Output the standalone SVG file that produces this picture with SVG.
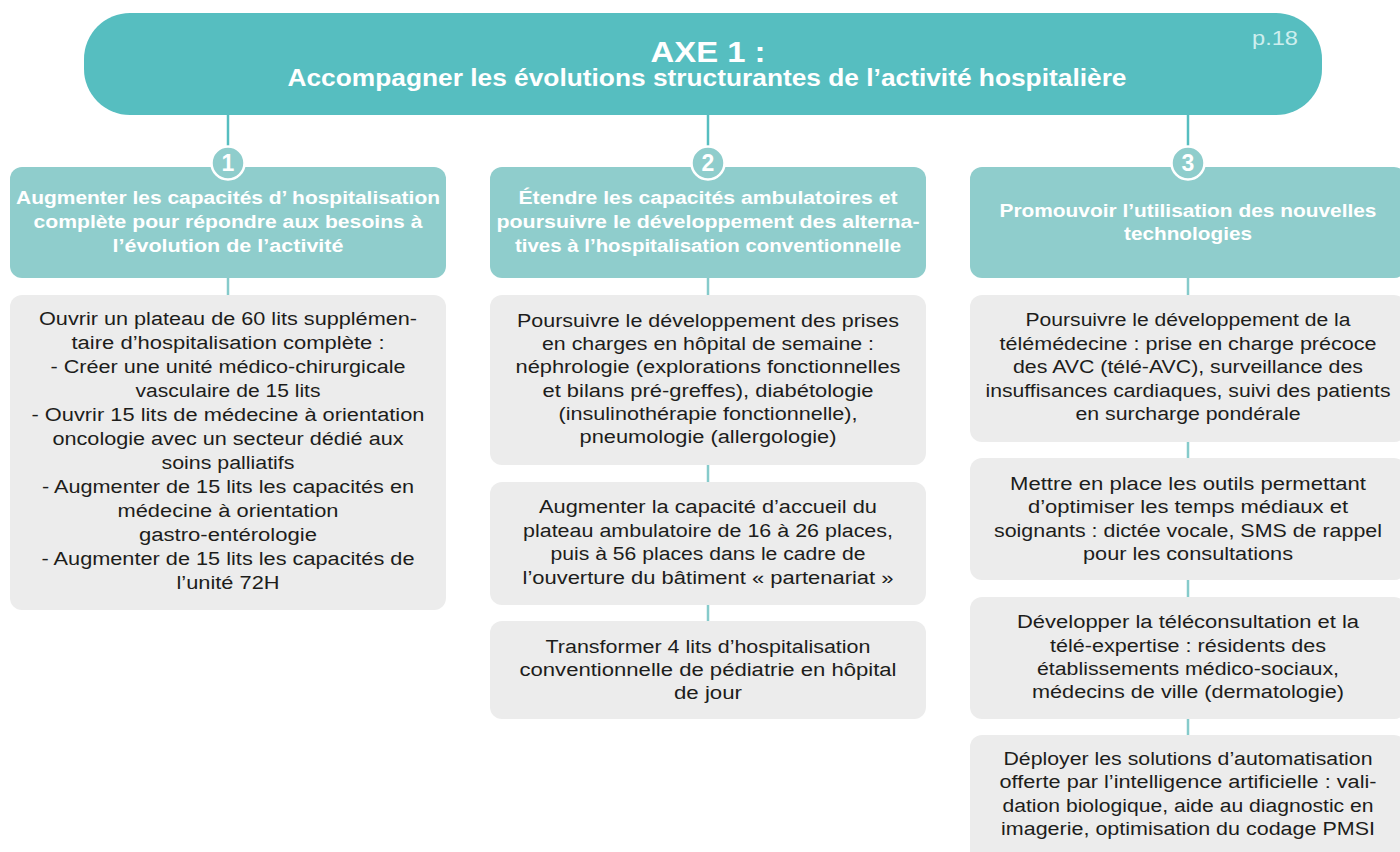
<svg xmlns="http://www.w3.org/2000/svg" width="1400" height="852" viewBox="0 0 1400 852">
<style>
.hdr{fill:#56bec0}
.l2{fill:#8fcdcc}
.l3{fill:#ececec}
.t2{font-family:"Liberation Sans",Arial,sans-serif;font-weight:bold;font-size:18px;fill:#ffffff;text-anchor:middle}
.t3{font-family:"Liberation Sans",Arial,sans-serif;font-size:18px;fill:#1d1d1b;text-anchor:middle}
.num{font-family:"Liberation Sans",Arial,sans-serif;font-weight:bold;font-size:23px;fill:#ffffff;text-anchor:middle}
.c1{stroke:#56bec0;stroke-width:2.5;fill:none}
.c2{stroke:#86cbcb;stroke-width:2.5;fill:none}
.badge{fill:#8fcdcc;stroke:#ffffff;stroke-width:2.5}
</style>
<rect width="1400" height="852" fill="#ffffff"/>
<g id="connectors">
<line class="c1" x1="228" y1="114" x2="228" y2="148"/>
<line class="c1" x1="708" y1="114" x2="708" y2="148"/>
<line class="c1" x1="1188" y1="114" x2="1188" y2="148"/>
<line class="c2" x1="228" y1="278" x2="228" y2="296"/>
<line class="c2" x1="708" y1="278" x2="708" y2="296"/>
<line class="c2" x1="708" y1="464" x2="708" y2="483"/>
<line class="c2" x1="708" y1="604" x2="708" y2="622"/>
<line class="c2" x1="1188" y1="278" x2="1188" y2="296"/>
<line class="c2" x1="1188" y1="441" x2="1188" y2="459"/>
<line class="c2" x1="1188" y1="579" x2="1188" y2="598"/>
<line class="c2" x1="1188" y1="718" x2="1188" y2="736"/>
</g>
<g id="header">
<rect class="hdr" x="84" y="13" width="1238" height="102" rx="46" ry="46"/>
<text x="708" y="62" font-family="'Liberation Sans',Arial,sans-serif" font-weight="bold" font-size="30" fill="#ffffff" text-anchor="middle" textLength="115" lengthAdjust="spacingAndGlyphs">AXE 1 :</text>
<text x="707" y="86" font-family="'Liberation Sans',Arial,sans-serif" font-weight="bold" font-size="23" fill="#ffffff" text-anchor="middle" textLength="839" lengthAdjust="spacingAndGlyphs">Accompagner les évolutions structurantes de l’activité hospitalière</text>
<text x="1275" y="45" font-family="'Liberation Sans',Arial,sans-serif" font-size="20" fill="#cdeeee" text-anchor="middle" textLength="46" lengthAdjust="spacingAndGlyphs">p.18</text>
</g>
<g id="obj1">
<rect class="l2" x="10" y="167" width="436" height="111" rx="12"/>
<circle class="badge" cx="228" cy="163" r="16.5"/>
<text class="num" x="228" y="171">1</text>
<text class="t2" x="228" y="204" textLength="424" lengthAdjust="spacingAndGlyphs">Augmenter les capacités d’ hospitalisation</text>
<text class="t2" x="228" y="228" textLength="389" lengthAdjust="spacingAndGlyphs">complète pour répondre aux besoins à</text>
<text class="t2" x="228" y="252" textLength="231" lengthAdjust="spacingAndGlyphs">l’évolution de l’activité</text>
</g>
<g id="obj2">
<rect class="l2" x="490" y="167" width="436" height="111" rx="12"/>
<circle class="badge" cx="708" cy="163" r="16.5"/>
<text class="num" x="708" y="171">2</text>
<text class="t2" x="708" y="204" textLength="379" lengthAdjust="spacingAndGlyphs">Étendre les capacités ambulatoires et</text>
<text class="t2" x="708" y="228" textLength="423" lengthAdjust="spacingAndGlyphs">poursuivre le développement des alterna-</text>
<text class="t2" x="708" y="252" textLength="386" lengthAdjust="spacingAndGlyphs">tives à l’hospitalisation conventionnelle</text>
</g>
<g id="obj3">
<rect class="l2" x="970" y="167" width="436" height="111" rx="12"/>
<circle class="badge" cx="1188" cy="163" r="16.5"/>
<text class="num" x="1188" y="171">3</text>
<text class="t2" x="1188" y="217" textLength="377" lengthAdjust="spacingAndGlyphs">Promouvoir l’utilisation des nouvelles</text>
<text class="t2" x="1188" y="240" textLength="128" lengthAdjust="spacingAndGlyphs">technologies</text>
</g>
<g id="action1-1">
<rect class="l3" x="10" y="295" width="436" height="315" rx="12"/>
<text class="t3" x="228" y="325" textLength="378" lengthAdjust="spacingAndGlyphs">Ouvrir un plateau de 60 lits supplémen-</text>
<text class="t3" x="228" y="349" textLength="313" lengthAdjust="spacingAndGlyphs">taire d’hospitalisation complète :</text>
<text class="t3" x="228" y="373" textLength="355" lengthAdjust="spacingAndGlyphs">- Créer une unité médico-chirurgicale</text>
<text class="t3" x="228" y="397" textLength="185" lengthAdjust="spacingAndGlyphs">vasculaire de 15 lits</text>
<text class="t3" x="228" y="421" textLength="393" lengthAdjust="spacingAndGlyphs">- Ouvrir 15 lits de médecine à orientation</text>
<text class="t3" x="228" y="445" textLength="351" lengthAdjust="spacingAndGlyphs">oncologie avec un secteur dédié aux</text>
<text class="t3" x="228" y="469" textLength="133" lengthAdjust="spacingAndGlyphs">soins palliatifs</text>
<text class="t3" x="228" y="493" textLength="372" lengthAdjust="spacingAndGlyphs">- Augmenter de 15 lits les capacités en</text>
<text class="t3" x="228" y="517" textLength="221" lengthAdjust="spacingAndGlyphs">médecine à orientation</text>
<text class="t3" x="228" y="541" textLength="178" lengthAdjust="spacingAndGlyphs">gastro-entérologie</text>
<text class="t3" x="228" y="565" textLength="373" lengthAdjust="spacingAndGlyphs">- Augmenter de 15 lits les capacités de</text>
<text class="t3" x="228" y="589" textLength="103" lengthAdjust="spacingAndGlyphs">l’unité 72H</text>
</g>
<g id="action2-1">
<rect class="l3" x="490" y="295" width="436" height="170" rx="12"/>
<text class="t3" x="708" y="327" textLength="382" lengthAdjust="spacingAndGlyphs">Poursuivre le développement des prises</text>
<text class="t3" x="708" y="350" textLength="332" lengthAdjust="spacingAndGlyphs">en charges en hôpital de semaine :</text>
<text class="t3" x="708" y="373" textLength="385" lengthAdjust="spacingAndGlyphs">néphrologie (explorations fonctionnelles</text>
<text class="t3" x="708" y="397" textLength="331" lengthAdjust="spacingAndGlyphs">et bilans pré-greffes), diabétologie</text>
<text class="t3" x="708" y="420" textLength="299" lengthAdjust="spacingAndGlyphs">(insulinothérapie fonctionnelle),</text>
<text class="t3" x="708" y="443" textLength="257" lengthAdjust="spacingAndGlyphs">pneumologie (allergologie)</text>
</g>
<g id="action2-2">
<rect class="l3" x="490" y="482" width="436" height="123" rx="12"/>
<text class="t3" x="708" y="513" textLength="338" lengthAdjust="spacingAndGlyphs">Augmenter la capacité d’accueil du</text>
<text class="t3" x="708" y="537" textLength="370" lengthAdjust="spacingAndGlyphs">plateau ambulatoire de 16 à 26 places,</text>
<text class="t3" x="708" y="560" textLength="315" lengthAdjust="spacingAndGlyphs">puis à 56 places dans le cadre de</text>
<text class="t3" x="708" y="584" textLength="371" lengthAdjust="spacingAndGlyphs">l’ouverture du bâtiment « partenariat »</text>
</g>
<g id="action2-3">
<rect class="l3" x="490" y="621" width="436" height="98" rx="12"/>
<text class="t3" x="708" y="653" textLength="325" lengthAdjust="spacingAndGlyphs">Transformer 4 lits d’hospitalisation</text>
<text class="t3" x="708" y="676" textLength="377" lengthAdjust="spacingAndGlyphs">conventionnelle de pédiatrie en hôpital</text>
<text class="t3" x="708" y="699" textLength="68" lengthAdjust="spacingAndGlyphs">de jour</text>
</g>
<g id="action3-1">
<rect class="l3" x="970" y="295" width="436" height="147" rx="12"/>
<text class="t3" x="1188" y="326" textLength="325" lengthAdjust="spacingAndGlyphs">Poursuivre le développement de la</text>
<text class="t3" x="1188" y="350" textLength="377" lengthAdjust="spacingAndGlyphs">télémédecine : prise en charge précoce</text>
<text class="t3" x="1188" y="373" textLength="350" lengthAdjust="spacingAndGlyphs">des AVC (télé-AVC), surveillance des</text>
<text class="t3" x="1188" y="397" textLength="405" lengthAdjust="spacingAndGlyphs">insuffisances cardiaques, suivi des patients</text>
<text class="t3" x="1188" y="420" textLength="225" lengthAdjust="spacingAndGlyphs">en surcharge pondérale</text>
</g>
<g id="action3-2">
<rect class="l3" x="970" y="458" width="436" height="122" rx="12"/>
<text class="t3" x="1188" y="490" textLength="356" lengthAdjust="spacingAndGlyphs">Mettre en place les outils permettant</text>
<text class="t3" x="1188" y="513" textLength="320" lengthAdjust="spacingAndGlyphs">d’optimiser les temps médiaux et</text>
<text class="t3" x="1188" y="537" textLength="388" lengthAdjust="spacingAndGlyphs">soignants : dictée vocale, SMS de rappel</text>
<text class="t3" x="1188" y="560" textLength="210" lengthAdjust="spacingAndGlyphs">pour les consultations</text>
</g>
<g id="action3-3">
<rect class="l3" x="970" y="597" width="436" height="122" rx="12"/>
<text class="t3" x="1188" y="628" textLength="342" lengthAdjust="spacingAndGlyphs">Développer la téléconsultation et la</text>
<text class="t3" x="1188" y="652" textLength="276" lengthAdjust="spacingAndGlyphs">télé-expertise : résidents des</text>
<text class="t3" x="1188" y="675" textLength="302" lengthAdjust="spacingAndGlyphs">établissements médico-sociaux,</text>
<text class="t3" x="1188" y="698" textLength="312" lengthAdjust="spacingAndGlyphs">médecins de ville (dermatologie)</text>
</g>
<g id="action3-4">
<rect class="l3" x="970" y="735" width="436" height="135" rx="12"/>
<text class="t3" x="1188" y="765" textLength="369" lengthAdjust="spacingAndGlyphs">Déployer les solutions d’automatisation</text>
<text class="t3" x="1188" y="788" textLength="377" lengthAdjust="spacingAndGlyphs">offerte par l’intelligence artificielle : vali-</text>
<text class="t3" x="1188" y="812" textLength="371" lengthAdjust="spacingAndGlyphs">dation biologique, aide au diagnostic en</text>
<text class="t3" x="1188" y="835" textLength="374" lengthAdjust="spacingAndGlyphs">imagerie, optimisation du codage PMSI</text>
</g>
</svg>
